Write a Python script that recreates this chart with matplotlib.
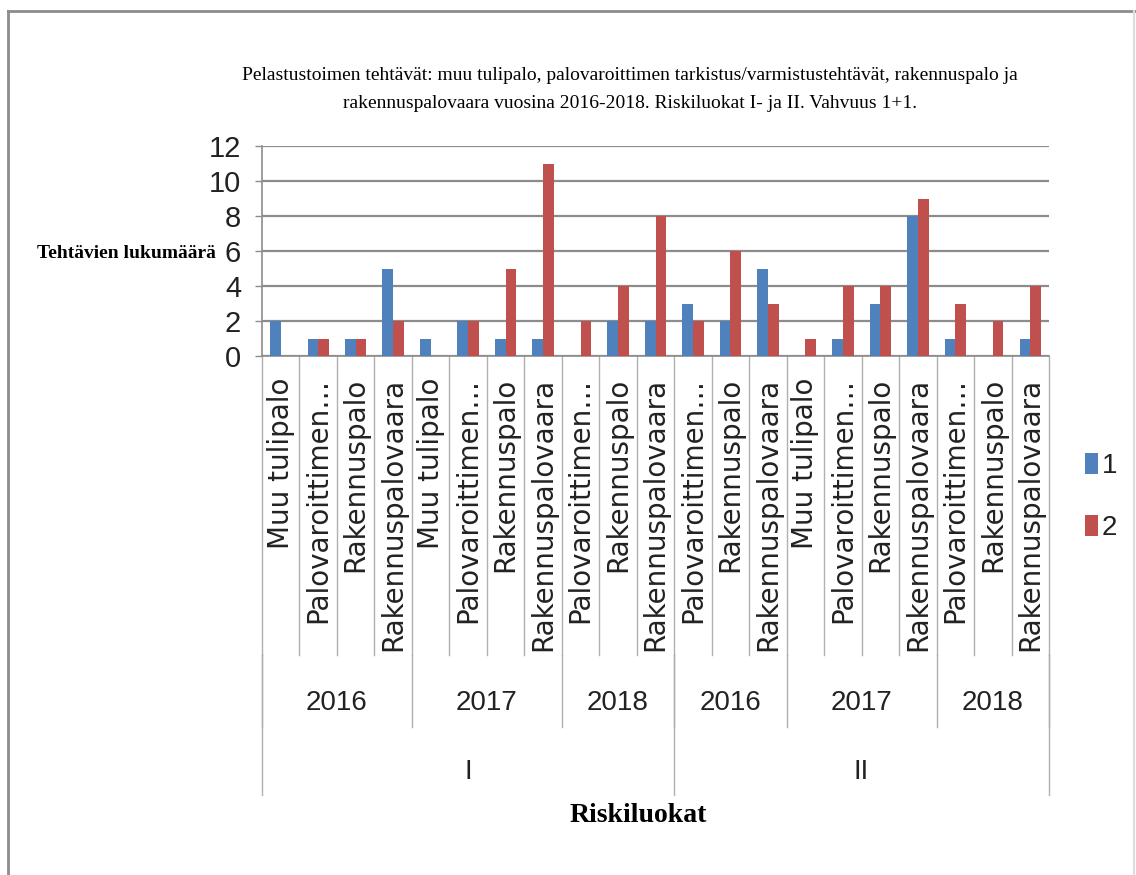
import matplotlib
matplotlib.use("Agg")
import matplotlib.pyplot as plt
import numpy as np
from matplotlib import font_manager
from matplotlib.lines import Line2D
from matplotlib.transforms import blended_transform_factory

# task types per (risk class, year) group
tasks = [
    "Muu tulipalo", "Palovaroittimen…", "Rakennuspalo", "Rakennuspalovaara",
    "Muu tulipalo", "Palovaroittimen…", "Rakennuspalo", "Rakennuspalovaara",
    "Palovaroittimen…", "Rakennuspalo", "Rakennuspalovaara",
    "Palovaroittimen…", "Rakennuspalo", "Rakennuspalovaara",
    "Muu tulipalo", "Palovaroittimen…", "Rakennuspalo", "Rakennuspalovaara",
    "Palovaroittimen…", "Rakennuspalo", "Rakennuspalovaara",
]
years = ["2016", "2017", "2018", "2016", "2017", "2018"]
year_sizes = [4, 4, 3, 3, 4, 3]
risk_classes = ["I", "II"]
class_sizes = [11, 10]

vahvuus_1 = [2, 1, 1, 5, 1, 2, 1, 1, 0, 2, 2, 3, 2, 5, 0, 1, 3, 8, 1, 0, 1]
vahvuus_2 = [0, 1, 1, 2, 0, 2, 5, 11, 2, 4, 8, 2, 6, 3, 1, 4, 4, 9, 3, 2, 4]
series_names = ["1", "2"]

installed = {f.name for f in font_manager.fontManager.ttflist}
narrow = "Liberation Sans Narrow" if "Liberation Sans Narrow" in installed else "Liberation Sans"
serif = "Liberation Serif"

W, H = 1136, 875
fig = plt.figure(figsize=(W / 100, H / 100), dpi=100)

def fx(px):
    return px / W

def fy(py):
    return 1 - py / H

ax = fig.add_axes([fx(262), fy(356), fx(1049) - fx(262), fy(146) - fy(356)])

x = np.arange(len(tasks))
bw = 0.285
ax.bar(x - bw / 2, vahvuus_1, bw, color="#4F81BD", label=series_names[0], zorder=3)
ax.bar(x + bw / 2, vahvuus_2, bw, color="#C0504D", label=series_names[1], zorder=3)

ax.set_xlim(-0.5, len(tasks) - 0.5)
ax.set_ylim(0, 12)
ax.set_yticks(range(0, 13, 2))
ax.set_xticks([])
ax.yaxis.grid(True, color="#8C8C8C", linewidth=1.6, zorder=0)
ax.tick_params(axis="y", length=5, width=1, color="#8C8C8C", pad=10, labelsize=21,
               labelcolor="#222222")
for lab in ax.get_yticklabels():
    lab.set_fontfamily(narrow)
for s in ["top", "right"]:
    ax.spines[s].set_visible(False)
for s in ["left", "bottom"]:
    ax.spines[s].set_color("#8C8C8C")
    ax.spines[s].set_linewidth(1.2)

# multi-level category axis drawn below the plot
tr = blended_transform_factory(ax.transData, fig.transFigure)
sep_color = "#B0B0B0"
for i in range(len(tasks) + 1):
    ax.add_line(Line2D([i - 0.5, i - 0.5], [fy(356), fy(655)], transform=tr,
                       color=sep_color, lw=1, clip_on=False))
for i, t in enumerate(tasks):
    ax.text(i, fy(378), t, transform=tr, rotation=90, ha="center", va="top",
            fontsize=20, family="DejaVu Sans", color="#222222")

start = 0
for yr, n in zip(years, year_sizes):
    ax.add_line(Line2D([start - 0.5, start - 0.5], [fy(655), fy(727)], transform=tr,
                       color=sep_color, lw=1, clip_on=False))
    ax.text(start + (n - 1) / 2, fy(703), yr, transform=tr, ha="center", va="center",
            fontsize=20, family=narrow, color="#222222")
    start += n
ax.add_line(Line2D([start - 0.5, start - 0.5], [fy(655), fy(727)], transform=tr,
                   color=sep_color, lw=1, clip_on=False))

start = 0
for rc, n in zip(risk_classes, class_sizes):
    ax.add_line(Line2D([start - 0.5, start - 0.5], [fy(655), fy(795)], transform=tr,
                       color=sep_color, lw=1, clip_on=False))
    ax.text(start + (n - 1) / 2, fy(772), rc, transform=tr, ha="center", va="center",
            fontsize=20, family=narrow, color="#222222")
    start += n
ax.add_line(Line2D([start - 0.5, start - 0.5], [fy(655), fy(795)], transform=tr,
                   color=sep_color, lw=1, clip_on=False))

fig.text(fx(630), fy(75),
         "Pelastustoimen tehtävät: muu tulipalo, palovaroittimen tarkistus/varmistustehtävät, rakennuspalo ja",
         ha="center", va="center", fontsize=14, family=serif)
fig.text(fx(630), fy(103),
         "rakennuspalovaara vuosina 2016-2018. Riskiluokat I- ja II. Vahvuus 1+1.",
         ha="center", va="center", fontsize=14, family=serif)
fig.text(fx(37), fy(253), "Tehtävien lukumäärä", ha="left", va="center",
         fontsize=14, family=serif, fontweight="bold")
fig.text(fx(638), fy(815), "Riskiluokat", ha="center", va="center",
         fontsize=20, family=serif, fontweight="bold")

leg = fig.legend(loc="center left", bbox_to_anchor=(fx(1085), fy(497)), frameon=False,
                 fontsize=20, handlelength=0.45, handleheight=0.8, handletextpad=0.15,
                 labelspacing=1.3, borderpad=0, borderaxespad=0)
for t in leg.get_texts():
    t.set_fontfamily(narrow)
    t.set_color("#222222")

# outer frame
fig.add_artist(Line2D([fx(8), fx(1136)], [fy(11), fy(11)], color="#8C8C8C", lw=2))
fig.add_artist(Line2D([fx(8), fx(8)], [fy(11), 0], color="#8C8C8C", lw=2))
fig.add_artist(Line2D([fx(1134), fx(1134)], [fy(11), 0], color="#DDDDDD", lw=1.5))

fig.savefig("out.png", dpi=100)
